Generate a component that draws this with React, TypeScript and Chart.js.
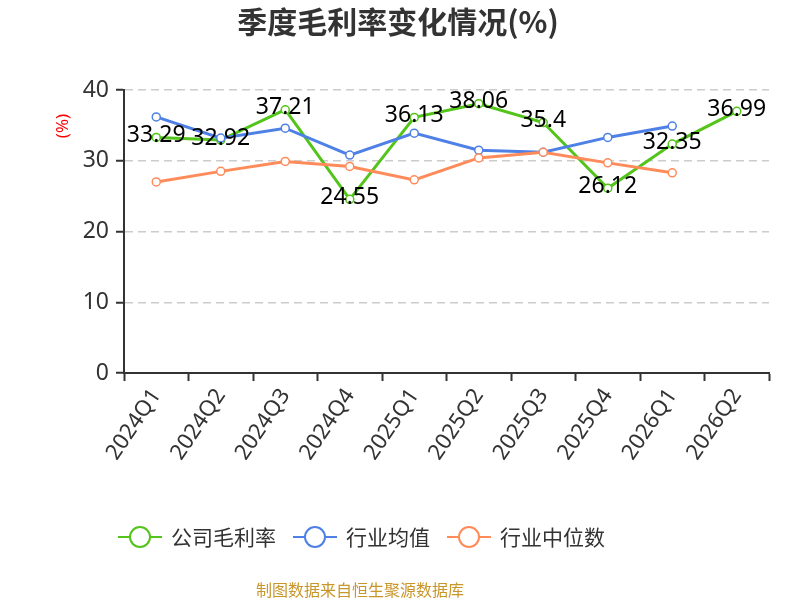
import { useEffect, useRef } from 'react';
import { Chart, registerables } from 'chart.js';

Chart.register(...registerables);

const quarters = ['2024Q1', '2024Q2', '2024Q3', '2024Q4', '2025Q1', '2025Q2', '2025Q3', '2025Q4', '2026Q1', '2026Q2'];
const companyMargin = [33.29, 32.92, 37.21, 24.55, 36.13, 38.06, 35.4, 26.12, 32.35, 36.99];
const industryMean = [36.2, 33.2, 34.6, 30.8, 33.9, 31.5, 31.2, 33.3, 34.9, null];
const industryMedian = [27.0, 28.5, 29.9, 29.2, 27.3, 30.4, 31.2, 29.7, 28.3, null];
const yTickValues = [0, 10, 20, 30, 40];

const GREEN = '#52c41a';
const BLUE = '#4e80e6';
const ORANGE = '#ff8b5a';
const AXIS = '#333333';
const NUM_FONT = '"Noto Sans", "Noto Sans CJK SC", sans-serif';
const CJK_FONT = '"Noto Sans CJK SC", sans-serif';

// labels on the company series + title, legend and footer
const decorPlugin = {
  id: 'decor',
  afterDatasetsDraw(chart: any) {
    const { ctx } = chart;
    const meta = chart.getDatasetMeta(0);
    ctx.save();
    ctx.font = `23px ${NUM_FONT}`;
    ctx.fillStyle = '#000';
    ctx.textAlign = 'center';
    ctx.textBaseline = 'middle';
    meta.data.forEach((pt: any, i: number) => {
      ctx.fillText(String(companyMargin[i]), pt.x, pt.y - 2);
    });
    ctx.restore();
  },
  afterDraw(chart: any) {
    const { ctx } = chart;
    ctx.save();

    ctx.font = `bold 30px ${CJK_FONT}`;
    ctx.fillStyle = '#333';
    ctx.textAlign = 'center';
    ctx.textBaseline = 'middle';
    ctx.fillText('季度毛利率变化情况(%)', 398, 22);

    ctx.save();
    ctx.translate(63, 126);
    ctx.rotate(-Math.PI / 2);
    ctx.font = `17px ${NUM_FONT}`;
    ctx.fillStyle = '#ff0000';
    ctx.fillText('(%)', 0, 0);
    ctx.restore();

    // legend
    let x = 118;
    const y = 537;
    ctx.font = `21px ${CJK_FONT}`;
    ctx.textAlign = 'left';
    chart.data.datasets.forEach((ds: any) => {
      ctx.strokeStyle = ds.borderColor;
      ctx.lineWidth = 2;
      ctx.beginPath();
      ctx.moveTo(x, y);
      ctx.lineTo(x + 44, y);
      ctx.stroke();
      ctx.beginPath();
      ctx.arc(x + 22, y, 10, 0, Math.PI * 2);
      ctx.fillStyle = '#fff';
      ctx.fill();
      ctx.stroke();
      ctx.fillStyle = '#333';
      ctx.fillText(ds.label, x + 53, y);
      x += 53 + ctx.measureText(ds.label).width + 17;
    });

    ctx.font = `16px ${CJK_FONT}`;
    ctx.fillStyle = '#c8962a';
    ctx.textAlign = 'center';
    ctx.fillText('制图数据来自恒生聚源数据库', 360, 590);
    ctx.restore();
  }
};

export default function App() {
  const canvasRef = useRef<HTMLCanvasElement>(null);

  useEffect(() => {
    if (!canvasRef.current) return;
    const lineStyle = (color: string) => ({
      borderColor: color,
      backgroundColor: color,
      borderWidth: 3,
      pointRadius: 4,
      pointBorderWidth: 1.5,
      pointBackgroundColor: '#fff',
      pointBorderColor: color,
      tension: 0,
      fill: false
    });

    const chart = new Chart(canvasRef.current, {
      type: 'line',
      data: {
        labels: quarters,
        datasets: [
          { label: '公司毛利率', data: companyMargin, order: 3, ...lineStyle(GREEN) },
          { label: '行业均值', data: industryMean, order: 2, ...lineStyle(BLUE) },
          { label: '行业中位数', data: industryMedian, order: 1, ...lineStyle(ORANGE) }
        ]
      },
      options: {
        responsive: false,
        animation: false,
        layout: { padding: { top: 90, right: 31, left: 0, bottom: 0 } },
        plugins: {
          legend: { display: false },
          title: { display: false },
          tooltip: { enabled: false }
        },
        scales: {
          x: {
            offset: true,
            afterFit: (scale: any) => {
              scale.height = 227;
            },
            grid: {
              display: true,
              offset: true,
              drawOnChartArea: false,
              tickLength: 8,
              tickColor: AXIS,
              tickWidth: 2
            },
            border: { display: true, color: AXIS, width: 2 },
            ticks: {
              color: '#333',
              font: { size: 22, family: NUM_FONT },
              minRotation: 56,
              maxRotation: 56,
              padding: 3
            }
          },
          y: {
            min: 0,
            max: 40,
            afterFit: (scale: any) => {
              scale.width = 124;
            },
            afterBuildTicks: (scale: any) => {
              scale.ticks = yTickValues.map((v) => ({ value: v }));
            },
            grid: {
              color: '#cccccc',
              lineWidth: 1.5,
              tickLength: 8,
              tickColor: AXIS,
              tickWidth: 2,
              tickBorderDash: []
            },
            border: { display: true, color: AXIS, width: 2, dash: [8, 5] },
            ticks: {
              color: '#333',
              font: { size: 23, family: NUM_FONT },
              padding: 7
            }
          }
        }
      },
      plugins: [decorPlugin]
    });

    return () => chart.destroy();
  }, []);

  return (
    <div style={{ position: 'absolute', left: 0, top: 0, width: 800, height: 600, background: '#fff' }}>
      <canvas ref={canvasRef} width={800} height={600} />
    </div>
  );
}
